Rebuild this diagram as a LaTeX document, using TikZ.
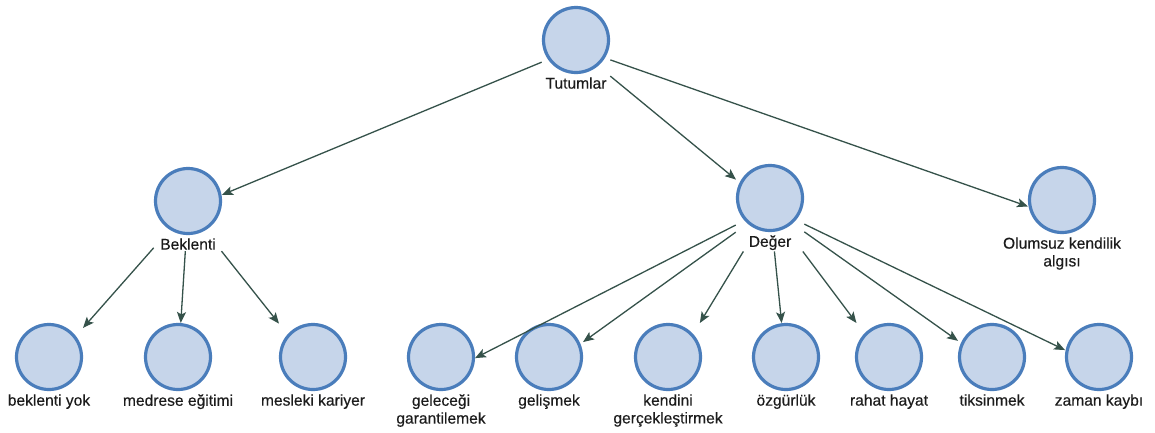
\documentclass[tikz,border=0pt]{standalone}
\usepackage{fontspec}
\setmainfont{Liberation Sans}
\usetikzlibrary{arrows.meta,fit,intersections}
\definecolor{cfill}{HTML}{C6D5EA}
\definecolor{cline}{HTML}{4A7DBB}
\definecolor{earr}{HTML}{35524A}
\definecolor{txt}{HTML}{1C1C1C}
\newcommand\mknode[4]{%
  \node[circ] (#1) at (#2,#3) {};
  \node[lbl] (#1l) at (#1.south) {#4};
  \node[fit=(#1)(#1l),inner sep=0pt] (#1f) {};
}
\newcommand\mkedge[2]{%
  \path[name path=ln] (#1f.center) -- (#2f.center);
  \path[name path=cc] ([shift={(-34pt,-34pt)}]#2.center) rectangle ([shift={(34pt,34pt)}]#2.center);
  \path[name intersections={of=ln and cc, by={ee}}];
  \draw[arr] (#1f) -- (ee);
}
\begin{document}
\begin{tikzpicture}[x=1pt,y=-1pt,
  circ/.style={circle,draw=cline,fill=cfill,line width=3.2pt,minimum size=65pt,inner sep=0pt},
  lbl/.style={anchor=north,inner sep=1pt,yshift=-2pt,text=txt,font=\fontsize{15.6}{17.8}\selectfont\addfontfeature{FakeBold=0.3},align=center},
  arr/.style={draw=earr,line width=1.3pt,-{Stealth[length=11pt,width=9pt,inset=2.5pt]}}]
\useasboundingbox[fill=white] (0,0) rectangle (1155,432);
\mknode{T}{576}{40}{Tutumlar}
\mknode{Bk}{188}{201}{Beklenti}
\mknode{D}{770}{198}{Değer}
\mknode{O}{1062}{200}{Olumsuz kendilik\\algısı}
\mknode{by}{49}{357}{beklenti yok}
\mknode{me}{178}{357}{medrese eğitimi}
\mknode{mk}{313}{357}{mesleki kariyer}
\mknode{gg}{441}{357}{geleceği\\garantilemek}
\mknode{gl}{549}{357}{gelişmek}
\mknode{kg}{668}{357}{kendini\\gerçekleştirmek}
\mknode{oz}{786}{357}{özgürlük}
\mknode{rh}{889}{357}{rahat hayat}
\mknode{tk}{992}{357}{tiksinmek}
\mknode{zk}{1099}{357}{zaman kaybı}
\mkedge{T}{Bk}
\mkedge{T}{D}
\mkedge{T}{O}
\mkedge{Bk}{by}
\mkedge{Bk}{me}
\mkedge{Bk}{mk}
\mkedge{D}{gg}
\mkedge{D}{gl}
\mkedge{D}{kg}
\mkedge{D}{oz}
\mkedge{D}{rh}
\mkedge{D}{tk}
\mkedge{D}{zk}
\end{tikzpicture}
\end{document}
